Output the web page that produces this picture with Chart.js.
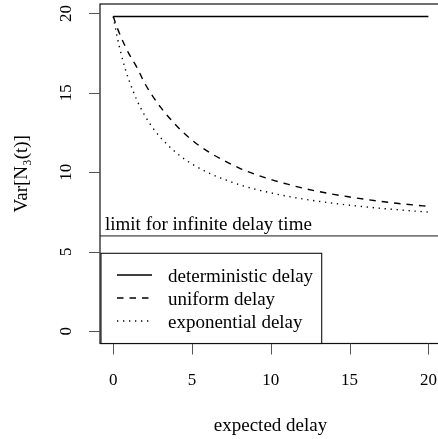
<!DOCTYPE html>
<html><head><meta charset="utf-8">
<script src="https://cdn.jsdelivr.net/npm/chart.js@4/dist/chart.umd.min.js"></script>
<style>
html,body{margin:0;padding:0;overflow:hidden;background:#fff;width:438px;height:439px}
#wrap{position:absolute;left:0;top:0;width:442px;height:439px}
</style></head><body><div id="wrap"><canvas id="c"></canvas></div>
<script>
// ---- data ----
const delayX = [0,0.25,0.5,0.75,1,1.5,2,2.5,3,4,5,6,7,8,9,10,11,12,13,14,15,16,17,18,19,20];
const uniformVar = [19.8,19.1,18.5,17.95,17.45,16.6,15.6,14.8,14.1,12.95,12.02,11.32,10.75,10.27,9.88,9.55,9.27,9.01,8.8,8.61,8.45,8.3,8.17,8.05,7.95,7.86];
const exponentialVar = [19.8,18.52,17.45,16.55,15.79,14.54,13.58,12.81,12.19,11.23,10.52,9.99,9.57,9.22,8.94,8.71,8.5,8.33,8.18,8.05,7.93,7.83,7.73,7.65,7.57,7.5];
const deterministicX = [0,20];
const deterministicVar = [19.8,19.8];
const limitVar = 6;
const xTicks = [0,5,10,15,20];
const yTicks = [0,5,10,15,20];
const xLimits = [-0.84,20.8];
const yLimits = [-0.77,20.59];
const seriesNames = ['deterministic delay','uniform delay','exponential delay'];
const limitLabel = 'limit for infinite delay time';
const xTitle = 'expected delay';
const yTitle = 'Var[N\u2083(t)]';

const SERIF = '"Liberation Serif", "Times New Roman", serif';
const TXT = '19px ' + SERIF;
const pts = (xs, ys) => xs.map((v,i)=>({x:v,y:ys[i]}));

const lineStyles = [
  {borderDash:[], borderWidth:1.6},
  {borderDash:[6.5,6], borderWidth:1.4},
  {borderDash:[1.3,4.7], borderWidth:1.4}
];

const decor = {
  id:'decor',
  afterDraw(chart){
    const {ctx, chartArea:a, scales:{x,y}} = chart;
    ctx.save();
    // frame
    ctx.strokeStyle='#111'; ctx.lineWidth=1.2; ctx.setLineDash([]);
    ctx.strokeRect(a.left, a.top, a.right-a.left, a.bottom-a.top);
    // tick marks
    ctx.strokeStyle='#555'; ctx.lineWidth=1;
    ctx.beginPath();
    x.ticks.forEach(t=>{ const px=Math.round(x.getPixelForValue(t.value))+0.5; ctx.moveTo(px,a.bottom); ctx.lineTo(px,a.bottom+11); });
    y.ticks.forEach(t=>{ const py=Math.round(y.getPixelForValue(t.value))+0.5; ctx.moveTo(a.left-11,py); ctx.lineTo(a.left,py); });
    ctx.stroke();
    // rotated y tick labels
    ctx.fillStyle='#000'; ctx.font='17px '+SERIF;
    ctx.textAlign='center'; ctx.textBaseline='middle';
    y.ticks.forEach(t=>{
      const py=y.getPixelForValue(t.value);
      ctx.save(); ctx.translate(66.3,py); ctx.rotate(-Math.PI/2);
      ctx.fillText(String(t.value),0,0); ctx.restore();
    });
    // axis titles
    ctx.font=TXT; ctx.textBaseline='alphabetic'; ctx.textAlign='center';
    ctx.fillText(xTitle, (a.left+a.right)/2, 430.5);
    ctx.save(); ctx.translate(26.5,(a.top+a.bottom)/2); ctx.rotate(-Math.PI/2);
    ctx.fillText(yTitle,0,0); ctx.restore();
    // limit label
    ctx.textAlign='left';
    ctx.fillText(limitLabel, a.left+5, y.getPixelForValue(limitVar)-6);
    // legend
    const lx0=a.left+1, ly0=253.3, lx1=321.7, ly1=a.bottom;
    ctx.fillStyle='#fff'; ctx.fillRect(lx0,ly0,lx1-lx0,ly1-ly0);
    ctx.strokeStyle='#111'; ctx.lineWidth=1.1;
    ctx.strokeRect(lx0,ly0,lx1-lx0,ly1-ly0);
    [0,1,2].forEach((di,i)=>{
      const ds=chart.data.datasets[di];
      const ry=275+i*23;
      ctx.save();
      ctx.strokeStyle=ds.borderColor; ctx.lineWidth=ds.borderWidth;
      ctx.setLineDash(ds.borderDash||[]);
      ctx.beginPath(); ctx.moveTo(117,ry); ctx.lineTo(152,ry); ctx.stroke();
      ctx.restore();
      ctx.fillStyle='#000'; ctx.font=TXT;
      ctx.textAlign='left'; ctx.textBaseline='alphabetic';
      ctx.fillText(ds.label,168,ry+6.5);
    });
    ctx.restore();
  }
};

const zeroPad = s => { s.paddingLeft=0; s.paddingRight=0; s.paddingTop=0; s.paddingBottom=0; };

new Chart(document.getElementById('c'), {
  type:'line',
  data:{datasets:[
    {label:seriesNames[0], data:pts(deterministicX,deterministicVar), borderColor:'#000', ...lineStyles[0], pointRadius:0, fill:false},
    {label:seriesNames[1], data:pts(delayX,uniformVar), borderColor:'#000', ...lineStyles[1], pointRadius:0, fill:false, cubicInterpolationMode:'monotone'},
    {label:seriesNames[2], data:pts(delayX,exponentialVar), borderColor:'#000', ...lineStyles[2], pointRadius:0, fill:false, cubicInterpolationMode:'monotone'},
    {label:'limit', data:pts(xLimits,[limitVar,limitVar]), borderColor:'#7a7a7a', borderWidth:1.6, pointRadius:0, fill:false}
  ]},
  options:{
    responsive:true, maintainAspectRatio:false, animation:false,
    layout:{padding:{left:0,top:4,right:1,bottom:0}},
    plugins:{legend:{display:false}, tooltip:{enabled:false}},
    scales:{
      x:{type:'linear', min:xLimits[0], max:xLimits[1],
        afterBuildTicks:s=>{s.ticks=xTicks.map(v=>({value:v}));},
        afterFit:s=>{s.height=95.5; zeroPad(s);},
        grid:{display:false, drawTicks:false},
        border:{display:false},
        ticks:{color:'#000', font:{family:SERIF,size:17}, padding:26.5, maxRotation:0, minRotation:0},
        title:{display:false}
      },
      y:{type:'linear', min:yLimits[0], max:yLimits[1],
        afterBuildTicks:s=>{s.ticks=yTicks.map(v=>({value:v}));},
        afterFit:s=>{s.width=100; zeroPad(s);},
        grid:{display:false, drawTicks:false},
        border:{display:false},
        ticks:{color:'rgba(0,0,0,0)', font:{family:SERIF,size:17}},
        title:{display:false}
      }
    }
  },
  plugins:[decor]
});
</script></body></html>
